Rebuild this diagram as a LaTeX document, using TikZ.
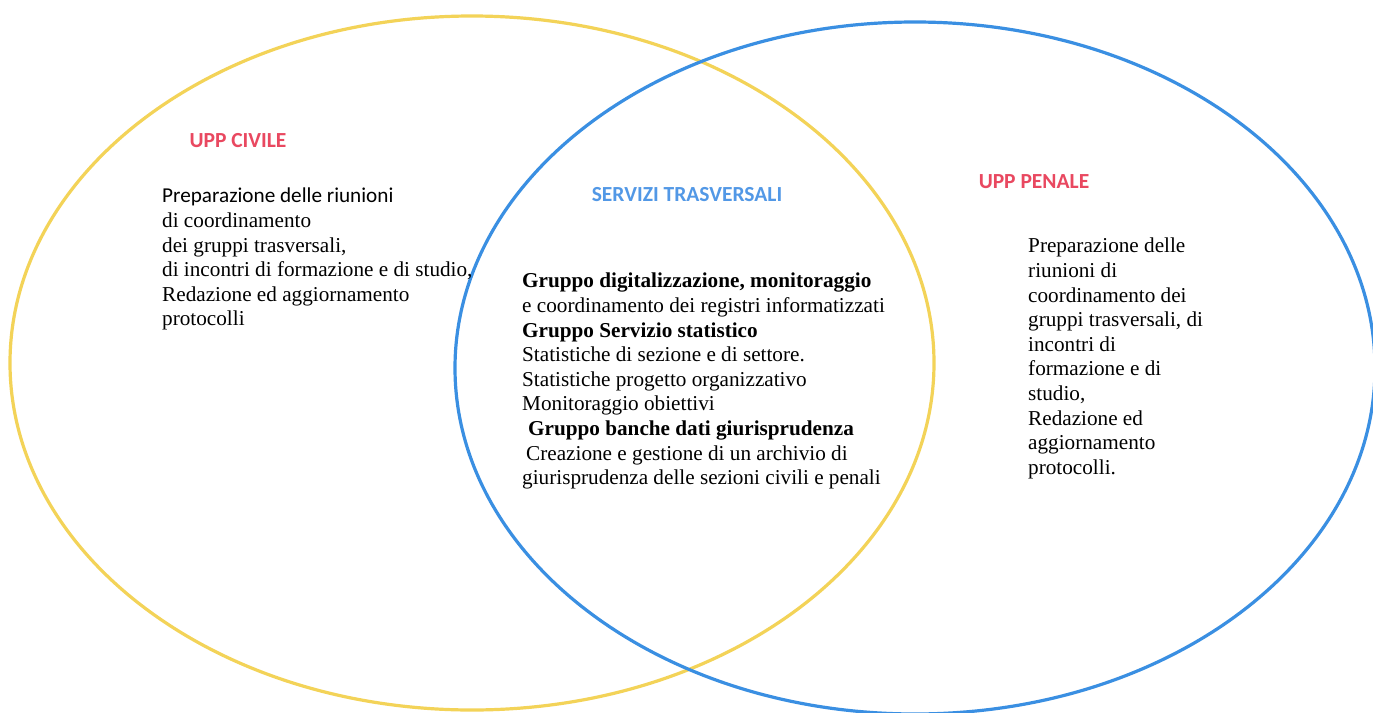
\documentclass[tikz,border=0pt]{standalone}
\usepackage{fontspec}
\setmainfont{Liberation Serif}
\newfontfamily\calfont{Carlito}
\definecolor{giallo}{RGB}{243,211,88}
\definecolor{azzurro}{RGB}{58,143,226}
\definecolor{rosso}{RGB}{233,72,96}
\definecolor{celeste}{RGB}{82,152,230}
\tikzset{
  titolo/.style={font=\calfont\bfseries\fontsize{21.5}{24}\selectfont, inner sep=0pt},
  testo/.style={font=\fontsize{21.2}{24.6}\selectfont, align=left, inner sep=0pt, anchor=north west},
}
\begin{document}
\begin{tikzpicture}[x=1pt,y=-1pt]
        \useasboundingbox[fill=white] (0,0) rectangle (1373,712);
        \coordinate (Oc) at (472,363);
        \coordinate (Op) at (915,368);
        \draw[giallo, line width=3.2pt] (Oc) ellipse [x radius=462pt, y radius=347pt];
        \draw[azzurro, line width=3.2pt] (Op) ellipse [x radius=460pt, y radius=346pt];
        \node[titolo, text=rosso] (civile) at (238,141) {UPP CIVILE};
        \node[titolo, text=celeste] (servizi) at (687,195) {SERVIZI TRASVERSALI};
        \node[titolo, text=rosso] (penale) at (1034,182) {UPP PENALE};
        \node[testo] (tcivile) at (162,188) {{\calfont Preparazione delle riunioni}\\
            di coordinamento\\
            dei gruppi trasversali,\\
            di incontri di formazione e di studio,\\
            Redazione ed aggiornamento\\
            protocolli};
        \node[testo] (tservizi) at (522,273) {\textbf{Gruppo digitalizzazione, monitoraggio}\\
            e coordinamento dei registri informatizzati\\
            \textbf{Gruppo Servizio statistico}\\
            Statistiche di sezione e di settore.\\
            Statistiche progetto organizzativo\\
            Monitoraggio obiettivi\\
            \hspace{6pt}\textbf{Gruppo banche dati giurisprudenza}\\
            \hspace{4pt}Creazione e gestione di un archivio di\\
            giurisprudenza delle sezioni civili e penali};
        \node[testo] (tpenale) at (1028,238) {Preparazione delle\\
            riunioni di\\
            coordinamento dei\\
            gruppi trasversali, di\\
            incontri di\\
            formazione e di\\
            studio,\\
            Redazione ed\\
            aggiornamento\\
            protocolli.};
    \end{tikzpicture}
\end{document}
